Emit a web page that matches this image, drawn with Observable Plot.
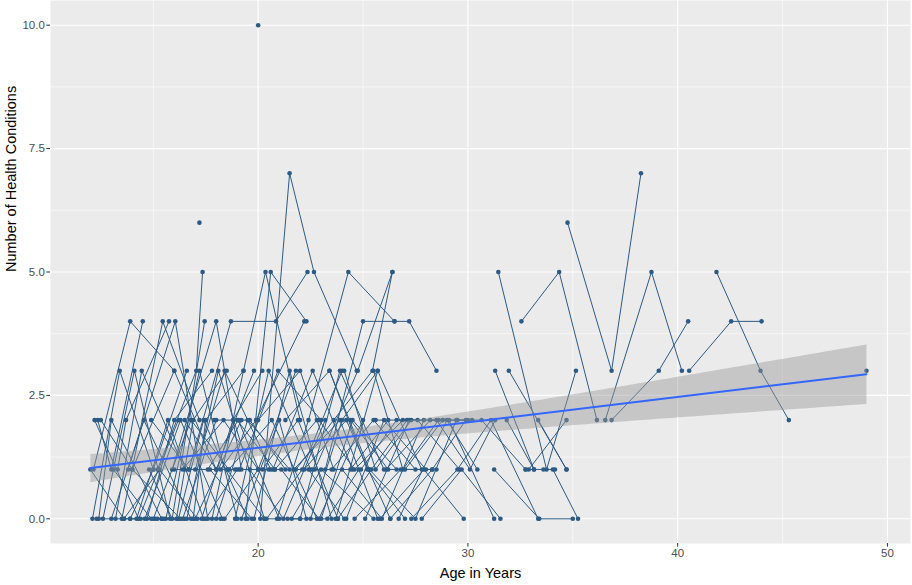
<!DOCTYPE html>
<html><head><meta charset="utf-8">
<script src="https://cdn.jsdelivr.net/npm/d3@7"></script>
<script src="https://cdn.jsdelivr.net/npm/@observablehq/plot@0.6"></script>
<style>body{margin:0;background:#fff;} #chart svg{display:block;}</style>
</head><body><div id="chart"></div>
<script>
// Each subject's ages (years) and matching numbers of health conditions
const subjectAges = [
  [12.0,13.6,15.2],[12.1,13.4,15.0],[12.2,14.3,16.2],[12.35,13.0,14.5],[12.4,13.0,15.4],
  [12.15,13.9,16.0],[12.6,14.1,15.8],[13.0,14.55,16.8],[13.2,14.45,16.5],[13.3,13.7,15.75],
  [13.5,15.45,17.2],[13.8,16.05,17.6],[13.9,15.0,16.6],[14.0,16.0,18.0],[14.2,15.7,17.4],
  [14.6,16.3,18.3],[14.7,16.0,17.8],[14.8,15.9,17.45],[15.0,16.8,18.6],[15.2,17.05,17.35],
  [15.4,16.4,18.0],[15.6,17.2,19.0],[15.9,18.0,19.2],[16.1,16.9,18.5],[16.2,17.4,19.5],
  [16.4,18.35,20.0],[16.6,18.1,20.3],[16.7,18.7,20.85,22.35],[16.9,17.5,19.3],[17.0,18.4,20.6],
  [17.2],[17.3,18.8,20.2],[17.6,19.05,21.0],[17.8,19.3,20.35,22.0],[18.0,19.5,21.5],
  [18.2,19.9,22.2],[18.4,20.0,21.8],[18.6,20.65,22.8],[18.9,20.5,22.5],[19.1,20.95,23.0],
  [19.4,20.6,22.3],[19.6,21.2,23.2],[19.8,21.5,23.5],[20.0],[20.1,21.5,22.66,24.7],
  [20.2,21.9,23.8],[20.4,22.1,24.0],[20.7,22.6,24.5],[20.9,22.4,24.3,26.5],[21.1,22.9,25.0],
  [21.3,23.4,25.3],[21.6,23.0,25.5],[21.8,23.6,25.45,26.4],[22.0,23.9,26.0],[22.2,24.2,26.3],
  [22.5,24.0,25.7],[22.7,24.75,26.4],[23.0,24.5,26.6],[23.2,25.0,26.5,27.2,28.5],[23.4,25.2,27.0],
  [23.5,25.5,27.5],[23.7,25.7,27.8],[24.0,25.9,27.9],[24.2,26.0,28.0],[24.4,26.2,28.3],
  [24.6,26.8,28.5],[24.9,26.6,28.8],[25.1,27.2,29.1,31.25],[25.3,27.5,29.45],[25.6,27.6,29.6],
  [25.8,27.9,29.8],[26.1,28.2,30.0],[26.3,28.3,29.9],[26.7,29.0,30.45],[27.0,28.8,30.2],
  [27.3,29.5,31.1,33.35],[27.8,29.7,31.55],[28.5,30.1,31.3],
  [12.3,13.9,15.5],[13.1,14.9,16.5],[14.4,16.2,18.2],[15.1,17.0,19.2],[16.0,17.7,19.7],
  [17.5,19.0,20.8],[18.5,20.3,22.0],[19.2,21.0,22.3],[20.5,22.4,24.1],[21.4,23.3,24.8],
  [22.6,24.4,26.2],[23.8,25.4,27.1],[12.5,14.0,16.3],[13.6,15.3,17.1],[14.9,16.7,18.9],
  [16.5,18.0,19.8],[17.9,19.6,21.3],[19.0,20.8,22.8],[20.0,22.0,23.6],[21.7,23.9,25.7],
  [22.9,24.6,26.9],[24.1,25.6,27.3],[25.5,26.9,28.6],
  [34.75,36.85,38.25],[32.55,34.35,36.15],[31.45,33.75,35.15],[36.55,38.75,40.2],[36.85,39.1,40.5],
  [40.55,42.55,44.0],[41.85,43.95,45.3],[49.0],[31.3,33.15],[31.95,34.7],
  [29.5,30.65,32.75],[31.85,33.15],[33.35,34.7],[31.25,33.4,35.0],[34.05,35.25],
  [32.9,34.7],[32.75,33.6,34.15]
];
const subjectCounts = [
  [1,0,0],[0,3,1],[2,0,2],[2,1,4],[0,2,0],
  [1,4,3],[0,3,0],[0,2,0],[0,3,1],[1,2,4],
  [0,4,2],[1,4,0],[0,1,3],[1,3,1],[0,2,0],
  [0,2,0],[0,2,3],[1,0,4],[0,2,1],[1,3,5],
  [0,0,2],[0,3,0],[1,4,1],[0,2,3],[0,2,0],
  [1,2,1],[0,3,0],[1,4,4,5],[0,2,3],[1,3,1],
  [6],[0,2,3],[1,2,0],[0,3,5,2],[0,2,1],
  [1,2,4],[0,1,3],[1,2,0],[0,3,1],[1,3,2],
  [0,5,4],[1,0,2],[0,3,0],[10],[0,7,5,3],
  [1,2,0],[0,1,3],[1,3,1],[0,2,5,4],[1,0,2],
  [2,3,1],[0,1,0],[1,2,3,5],[0,3,1],[1,2,0],
  [0,2,3],[1,3,5],[0,2,1],[1,4,4,4,3],[3,1,0],
  [1,2,1],[0,3,1],[1,0,2],[0,2,1],[2,1,1],
  [0,1,1],[1,2,2],[0,2,2,0],[1,0,2],[2,2,1],
  [0,1,0],[1,2,2],[0,1,2],[0,2,1],[1,2,2],
  [0,1,2,0],[0,1,0],[2,1,2],
  [0,0,0],[1,0,0],[0,0,0],[0,0,2],[1,1,0],
  [0,1,1],[1,0,0],[0,2,0],[1,1,0],[0,0,1],
  [1,1,2],[0,1,2],[2,1,0],[0,1,0],[2,1,1],
  [2,1,3],[2,2,1],[2,1,2],[2,3,1],[1,2,0],
  [2,1,2],[3,1,2],[3,1,2],
  [6,3,7],[4,5,2],[5,1,3],[2,5,3],[2,3,4],
  [3,4,4],[5,3,2],[3],[3,1],[3,1],
  [2,2,1],[2,1],[2,1],[1,0,0],[1,0],
  [1,2],[1,1,1]
];
const xTicks = [20, 30, 40, 50];
const xMinor = [15, 25, 35, 45];
const yTicks = [0, 2.5, 5, 7.5, 10];
const yMinor = [1.25, 3.75, 6.25, 8.75];
const xTitle = "Age in Years";
const yTitle = "Number of Health Conditions";

const data = [];
subjectAges.forEach((ages, i) => ages.forEach((a, j) => data.push({id: i, age: a, count: subjectCounts[i][j]})));

const pointColor = "#2c5a84";

const chart = Plot.plot({
  width: 912,
  height: 585,
  marginLeft: 50,
  marginRight: 2,
  marginTop: 0,
  marginBottom: 42,
  style: {fontFamily: "'Liberation Sans', Arial, sans-serif", background: "white"},
  x: {domain: [10.1, 51.1], label: null},
  y: {domain: [-0.5, 10.5], label: null},
  marks: [
    Plot.frame({fill: "#EBEBEB", stroke: "none"}),
    Plot.ruleX(xMinor, {stroke: "white", strokeWidth: 0.55}),
    Plot.ruleY(yMinor, {stroke: "white", strokeWidth: 0.55}),
    Plot.ruleX(xTicks, {stroke: "white", strokeWidth: 1.1}),
    Plot.ruleY(yTicks, {stroke: "white", strokeWidth: 1.1}),
    Plot.line(data, {x: "age", y: "count", z: "id", stroke: pointColor, strokeWidth: 1}),
    Plot.dot(data, {x: "age", y: "count", fill: pointColor, r: 2.3}),
    Plot.linearRegressionY(data, {x: "age", y: "count", stroke: "#3366FF", strokeWidth: 2, fill: "#999999", fillOpacity: 0.45}),
    Plot.axisX({ticks: xTicks, tickSize: 3.7, tickPadding: 2, fontSize: 11.5, label: null, stroke: "#333333", fill: "#4D4D4D"}),
    Plot.axisY({ticks: yTicks, tickSize: 3.7, tickPadding: 2, fontSize: 11.5, label: null, tickFormat: d3.format(".1f"), stroke: "#333333", fill: "#4D4D4D"}),
    Plot.text([xTitle], {frameAnchor: "bottom", dy: 34, fontSize: 14.5, fill: "black"}),
    Plot.text([yTitle], {frameAnchor: "left", dx: -39, rotate: -90, fontSize: 14.5, fill: "black"})
  ]
});
document.getElementById("chart").appendChild(chart);
</script>
</body></html>
